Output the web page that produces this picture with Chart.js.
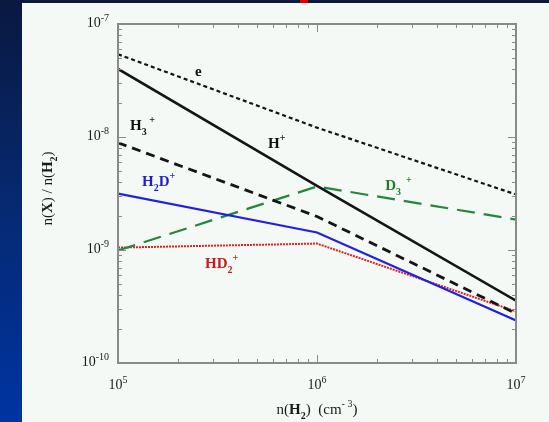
<!DOCTYPE html>
<html>
<head>
<meta charset="utf-8">
<script src="https://cdn.jsdelivr.net/npm/chart.js@4.4.1/dist/chart.umd.min.js"></script>
<style>
    html, body { margin: 0; padding: 0; }
    body { width: 549px; height: 422px; background: #0b1a3c; position: relative; overflow: hidden; }
    .side { position: absolute; left: 0; top: 0; width: 22px; height: 422px;
        background: linear-gradient(to bottom, #0a1840 0%, #06286e 45%, #0034a2 100%); }
    .mark { position: absolute; left: 300px; top: 0; width: 8px; height: 4px; background: #e00000; }
    .panel { position: absolute; left: 22px; top: 3px; width: 527px; height: 419px; background: #f5f9f5; }
    canvas { display: block; }
</style>
</head>
<body>
<div class="side"></div>
<div class="mark"></div>
<div class="panel"><canvas id="abundChart" width="527" height="419"></canvas></div>
<script>
// n(H2) grid, cm^-3
const density = [1e5, 1e6, 1e7]

// fractional abundances n(X)/n(H2)
const electrons = [5.4e-8, 1.21e-8, 3.1e-9]
const hPlus = [4.0e-8, 3.7e-9, 3.56e-10]
const h3Plus = [8.9e-9, 1.98e-9, 2.74e-10]
const h2dPlus = [3.16e-9, 1.43e-9, 2.38e-10]
const d3Plus = [9.9e-10, 3.65e-9, 1.86e-9]
const hd2Plus = [1.05e-9, 1.14e-9, 2.86e-10]

const xTicks = [5, 6, 7]        // decades, 10^n
const yTicks = [-7, -8, -9, -10]

const serif = '"Liberation Serif", "Times New Roman", serif'

function pts(ys) {
    return density.map((x, i) => ({ x: x, y: ys[i] }))
}

function fontFor(p, size) {
    const sz = p.s ? Math.round(size * 0.68) : size
    return (p.b ? 'bold ' : '') + sz + 'px ' + serif
}

function drawRich(ctx, parts, x, y, size, align, color) {
    let w = 0
    parts.forEach(p => { ctx.font = fontFor(p, size); w += ctx.measureText(p.t).width })
    let cx = align === 'center' ? x - w / 2 : align === 'right' ? x - w : x
    ctx.fillStyle = color
    ctx.textAlign = 'left'
    ctx.textBaseline = 'alphabetic'
    parts.forEach(p => {
        ctx.font = fontFor(p, size)
        let dy = p.s === 'sup' ? -size * 0.45 : p.s === 'sub' ? size * 0.35 : 0
        ctx.fillText(p.t, cx, y + dy)
        cx += ctx.measureText(p.t).width
    })
}

// curve names, anchored in data space (left edge, baseline)
const curveNames = [
    { x: 2.44e5, y: 3.5e-8, color: '#111', parts: [{ t: 'e', b: true }] },
    { x: 5.68e5, y: 8.07e-9, color: '#111', parts: [{ t: 'H', b: true }, { t: '+', b: true, s: 'sup' }] },
    { x: 1.15e5, y: 1.16e-8, color: '#111', parts: [{ t: 'H', b: true }, { t: '3', b: true, s: 'sub' }, { t: ' +', b: true, s: 'sup' }] },
    { x: 1.32e5, y: 3.72e-9, color: '#1c1cd8', parts: [{ t: 'H', b: true }, { t: '2', b: true, s: 'sub' }, { t: 'D', b: true }, { t: '+', b: true, s: 'sup' }] },
    { x: 2.2e6, y: 3.43e-9, color: '#1e7a2c', parts: [{ t: 'D', b: true }, { t: '3', b: true, s: 'sub' }, { t: '  +', b: true, s: 'sup' }] },
    { x: 2.74e5, y: 7.0e-10, color: '#cc1818', parts: [{ t: 'HD', b: true }, { t: '2', b: true, s: 'sub' }, { t: '+', b: true, s: 'sup' }] }
]

const decor = {
    id: 'decor',
    afterDatasetsDraw(chart) {
        const ctx = chart.ctx
        const a = chart.chartArea
        const xs = chart.scales.x
        const ys = chart.scales.y
        ctx.save()

        // frame
        ctx.strokeStyle = '#8a8a8a'
        ctx.lineWidth = 2
        ctx.strokeRect(a.left, a.top, a.right - a.left, a.bottom - a.top)

        // inward ticks on all sides
        ctx.lineWidth = 1
        ctx.beginPath()
        for (let d = 5; d < 7; d++) {
            for (let m = 1; m <= 9; m++) {
                const px = Math.round(xs.getPixelForValue(m * Math.pow(10, d))) + 0.5
                const len = m === 1 ? 8 : 4
                ctx.moveTo(px, a.bottom); ctx.lineTo(px, a.bottom - len)
                ctx.moveTo(px, a.top); ctx.lineTo(px, a.top + len)
            }
        }
        for (let d = -10; d < -7; d++) {
            for (let m = 1; m <= 9; m++) {
                const py = Math.round(ys.getPixelForValue(m * Math.pow(10, d))) + 0.5
                const len = m === 1 ? 8 : 4
                ctx.moveTo(a.left, py); ctx.lineTo(a.left + len, py)
                ctx.moveTo(a.right, py); ctx.lineTo(a.right - len, py)
            }
        }
        ctx.stroke()

        // tick labels
        xTicks.forEach(n => {
            const px = xs.getPixelForValue(Math.pow(10, n))
            drawRich(ctx, [{ t: '10' }, { t: String(n), s: 'sup' }], px, a.bottom + 26, 14, 'center', '#1a1a1a')
        })
        yTicks.forEach(n => {
            const py = ys.getPixelForValue(Math.pow(10, n))
            drawRich(ctx, [{ t: '10' }, { t: String(n), s: 'sup' }], a.left - 9, py + 3, 14, 'right', '#1a1a1a')
        })

        // axis titles
        drawRich(ctx, [{ t: 'n(' }, { t: 'H', b: true }, { t: '2', b: true, s: 'sub' }, { t: ')  (cm' }, { t: '- 3', s: 'sup' }, { t: ')' }],
            (a.left + a.right) / 2, a.bottom + 51, 15, 'center', '#1a1a1a')
        ctx.save()
        ctx.translate(30, (a.top + a.bottom) / 2 - 5)
        ctx.rotate(-Math.PI / 2)
        drawRich(ctx, [{ t: 'n(' }, { t: 'X', b: true }, { t: ') / n(' }, { t: 'H', b: true }, { t: '2', b: true, s: 'sub' }, { t: ')' }],
            0, 0, 15, 'center', '#1a1a1a')
        ctx.restore()

        // curve names
        curveNames.forEach(c => {
            drawRich(ctx, c.parts, xs.getPixelForValue(c.x), ys.getPixelForValue(c.y), 15, 'left', c.color)
        })
        ctx.restore()
    }
}

const ctx = document.getElementById('abundChart').getContext('2d')
const abundChart = new Chart(ctx, {
    type: 'line',
    data: {
        datasets: [
            { label: 'e', data: pts(electrons), borderColor: '#151515', borderWidth: 2.2, borderDash: [4, 3] },
            { label: 'H+', data: pts(hPlus), borderColor: '#151515', borderWidth: 2.6 },
            { label: 'H3+', data: pts(h3Plus), borderColor: '#151515', borderWidth: 2.8, borderDash: [9, 6] },
            { label: 'H2D+', data: pts(h2dPlus), borderColor: '#2020e0', borderWidth: 2.2 },
            { label: 'D3+', data: pts(d3Plus), borderColor: '#22883a', borderWidth: 2.2, borderDash: [18, 9] },
            { label: 'HD2+', data: pts(hd2Plus), borderColor: '#e02020', borderWidth: 2, borderDash: [2, 1] }
        ]
    },
    options: {
        responsive: false,
        animation: false,
        layout: { padding: { left: 96, right: 33, top: 21, bottom: 59 } },
        elements: { point: { radius: 0 }, line: { tension: 0, fill: false } },
        plugins: { legend: { display: false }, tooltip: { enabled: false } },
        scales: {
            x: { type: 'logarithmic', min: 1e5, max: 1e7, display: false },
            y: { type: 'logarithmic', min: 1e-10, max: 1e-7, display: false }
        }
    },
    plugins: [decor]
})
</script>
</body>
</html>
